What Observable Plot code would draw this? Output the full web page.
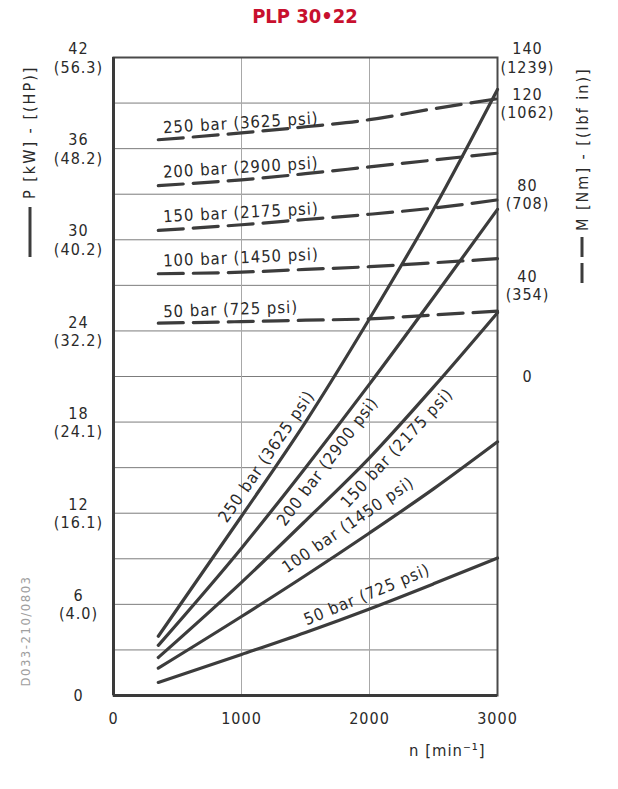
<!DOCTYPE html>
<html>
<head>
<meta charset="utf-8">
<script src="https://cdn.jsdelivr.net/npm/d3@7"></script>
<script src="https://cdn.jsdelivr.net/npm/@observablehq/plot@0.6"></script>
<style>
  body { margin: 0; background: #fff; }
  #title {
    width: 610px; padding-right: 8px; height: 32px; line-height: 32px; text-align: center;
    font-family: "DejaVu Sans Condensed", "DejaVu Sans", sans-serif; font-stretch: condensed;
    font-weight: bold; font-size: 20px; color: #c8102e;
  }
  #chart svg { display: block; }
</style>
</head>
<body>
<div id="title">PLP 30•22</div>
<div id="chart"></div>
<script>
const FONT = '"DejaVu Sans Condensed", "DejaVu Sans", sans-serif';
const TEXT = "#2a2a2a";
const LINE = "#3c3c3c";

// ---- data ----
const speeds = [350, 1000, 1500, 2000, 2500, 3000];          // n [min-1]
const pressureBar = [50, 100, 150, 200, 250];
const pressurePsi = [725, 1450, 2175, 2900, 3625];

// power P [kW]
const power50  = [0.86, 2.7, 4.15, 5.7, 7.35, 9.05];
const power100 = [1.8, 5.2, 7.9, 10.7, 13.6, 16.7];
const power150 = [2.5, 7.45, 11.5, 15.65, 20.3, 25.2];
const power200 = [3.3, 9.7, 15.0, 20.5, 26.2, 32.0];
const power250 = [3.9, 11.8, 18.0, 24.8, 32.0, 39.9];

// torque M [Nm]
const torque50  = [23.4, 24.1, 24.7, 25.3, 27.0, 28.7];
const torque100 = [45.1, 45.8, 47.0, 48.2, 49.9, 51.7];
const torque150 = [64.1, 66.6, 68.9, 71.2, 73.9, 77.5];
const torque200 = [83.8, 86.3, 89.0, 92.0, 95.0, 98.0];
const torque250 = [103.9, 106.9, 109.6, 112.7, 117.5, 121.9];

// axes
const xTicks = [0, 1000, 2000, 3000];
const xGrid = [1000, 2000];
const kwGrid = [3, 6, 9, 12, 15, 18, 21, 24, 27, 30, 33, 36, 39];
const kwTicks = [0, 6, 12, 18, 24, 30, 36, 42];
const hpTicks = [null, "4.0", "16.1", "24.1", "32.2", "40.2", "48.2", "56.3"];
const nmTicks = [0, 40, 80, 120, 140];
const lbfTicks = [null, "354", "708", "1062", "1239"];
// torque axis aligned with power axis: 0 Nm at 21 kW line, 140 Nm at 42 kW line
const nmToKwAxis = d3.scaleLinear().domain([0, 140]).range([21, 42]);

// ---- tables ----
const powerSeries = [power50, power100, power150, power200, power250];
const torqueSeries = [torque50, torque100, torque150, torque200, torque250];
const powerRows = pressureBar.flatMap((bar, i) => speeds.map((n, j) => ({bar, n, kw: powerSeries[i][j]})));
const torqueRows = pressureBar.flatMap((bar, i) => speeds.map((n, j) => ({bar, n, nm: torqueSeries[i][j]})));
const labelText = pressureBar.map((b, i) => `${b} bar (${pressurePsi[i]} psi)`);

// label layout (positions in chart units)
const powerLabelLayout = [
  {n: 1510, kw: 4.61, rot: -22.5},
  {n: 1355, kw: 8.03, rot: -34.5},
  {n: 1830, kw: 12.3, rot: -47},
  {n: 1340, kw: 11.1, rot: -53},
  {n: 885, kw: 11.3, rot: -55.5}
];
const torqueLabelLayout = [
  {n: 390, kw: 24.9, rot: -2},
  {n: 390, kw: 28.24, rot: -2.5},
  {n: 390, kw: 31.16, rot: -3},
  {n: 390, kw: 34.08, rot: -3.5},
  {n: 390, kw: 37.02, rot: -3.5}
];
const powerLabels = powerLabelLayout.map((d, i) => ({...d, text: labelText[i]}));
const torqueLabels = torqueLabelLayout.map((d, i) => ({...d, text: labelText[i]}));

const common = {fontFamily: FONT, fontSize: 16, fill: TEXT};
const labelFont = {fontFamily: FONT, fontSize: 16.5, fill: TEXT};

const plot = Plot.plot({
  width: 618, height: 757,
  marginTop: 25, marginRight: 121, marginBottom: 94, marginLeft: 113,
  x: {domain: [0, 3000], axis: null},
  y: {domain: [0, 42], axis: null},
  style: {fontFamily: FONT, letterSpacing: "1px", background: "#fff", overflow: "visible"},
  marks: [
    Plot.ruleY(kwGrid, {stroke: "#7c7c7c", strokeWidth: 1}),
    Plot.ruleX(xGrid, {stroke: "#a8a8a8", strokeWidth: 1}),
    Plot.frame({stroke: "#4a4a4a", strokeWidth: 2}),
    Plot.ruleX([0], {stroke: "#3a3a3a", strokeWidth: 3}),
    Plot.ruleY([0], {stroke: "#3a3a3a", strokeWidth: 3}),
    Plot.line(torqueRows, {x: "n", y: d => nmToKwAxis(d.nm), z: "bar", stroke: LINE, strokeWidth: 3.2,
      strokeDasharray: "25 10", curve: "monotone-x"}),
    Plot.line(powerRows, {x: "n", y: "kw", z: "bar", stroke: LINE, strokeWidth: 3.2, curve: "monotone-x"}),
    Plot.text(torqueLabels, {x: "n", y: "kw", text: "text", rotate: "rot", textAnchor: "start", lineAnchor: "bottom", ...labelFont}),
    Plot.text(powerLabels, {x: "n", y: "kw", text: "text", rotate: "rot", textAnchor: "start", lineAnchor: "bottom", ...labelFont}),
    // x tick labels
    Plot.text(xTicks, {x: d => d, text: d => String(d), frameAnchor: "bottom", dy: 23, lineAnchor: "middle", textAnchor: "middle", ...common}),
    // x title
    Plot.text(["n [min⁻¹]"], {x: () => 3000, frameAnchor: "bottom", dy: 55, textAnchor: "end", dx: -12, lineAnchor: "middle", ...common, fontSize: 16.5}),
    // left tick labels
    Plot.text(kwTicks, {y: d => d, text: (d, i) => hpTicks[i] ? `${d}\n(${hpTicks[i]})` : `${d}`,
      frameAnchor: "left", dx: -35, textAnchor: "middle", lineAnchor: "middle", lineHeight: 1.15, ...common}),
    // right tick labels
    Plot.text(nmTicks, {y: d => nmToKwAxis(d), text: (d, i) => lbfTicks[i] ? `${d}\n(${lbfTicks[i]})` : `${d}`,
      frameAnchor: "right", dx: 30, textAnchor: "middle", lineAnchor: "middle", lineHeight: 1.15, ...common})
  ]
});

document.getElementById("chart").appendChild(plot);

// ---- axis titles with line-style legend symbols, drawing code ----
const svg = d3.select(plot);
const deco = svg.append("g").attr("font-family", FONT).attr("fill", TEXT).attr("text-anchor", "start");

// left: solid symbol + "P [kW] - [(HP)]"
deco.append("line").attr("x1", 30).attr("x2", 30).attr("y1", 175).attr("y2", 225)
  .attr("stroke", LINE).attr("stroke-width", 3);
deco.append("text").attr("transform", "translate(35,167) rotate(-90)")
  .attr("font-size", 16).attr("letter-spacing", "2px").text("P [kW] - [(HP)]");

// right: dashed symbol + "M [Nm] - [(lbf in)]"
deco.append("line").attr("x1", 582).attr("x2", 582).attr("y1", 205).attr("y2", 255)
  .attr("stroke", LINE).attr("stroke-width", 3).attr("stroke-dasharray", "20 6");
deco.append("text").attr("transform", "translate(588,199) rotate(-90)")
  .attr("font-size", 16).attr("letter-spacing", "2px").text("M [Nm] - [(lbf in)]");

// drawing code
deco.append("text").attr("transform", "translate(30,599) rotate(-90)")
  .attr("text-anchor", "middle").attr("font-size", 13).attr("letter-spacing", "1.5px")
  .attr("fill", "#a0a0a0").text("D033-210/0803");
</script>
</body>
</html>
